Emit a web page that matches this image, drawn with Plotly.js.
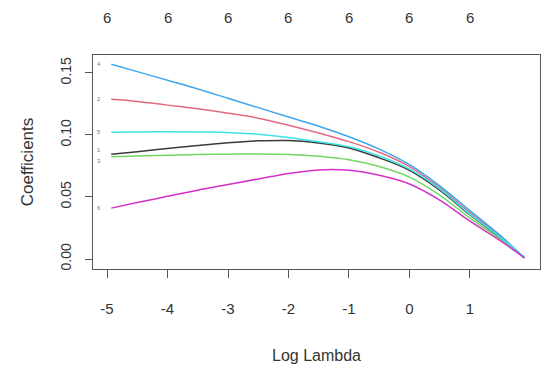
<!DOCTYPE html>
<html>
<head>
<meta charset="utf-8">
<script src="https://cdn.plot.ly/plotly-3.0.1.min.js"></script>
<style>
html,body{margin:0;padding:0;background:#fff;}
#chart{width:542px;height:371px;}
</style>
</head>
<body>
<div id="chart"></div>
<script>
// Log Lambda grid
const logLambda = [-4.93, -4.5, -4, -3.5, -3, -2.5, -2, -1.5, -1, -0.5, 0, 0.5, 1, 1.5, 1.9];
// Coefficient paths (variable index -> values)
const coef1 = [0.0845, 0.0865, 0.089, 0.0915, 0.0937, 0.0952, 0.0955, 0.0935, 0.0895, 0.0815, 0.0715, 0.0555, 0.0355, 0.017, 0.001];
const coef2 = [0.1287, 0.127, 0.124, 0.121, 0.1175, 0.1135, 0.1078, 0.1015, 0.0946, 0.086, 0.0745, 0.0575, 0.0375, 0.018, 0.001];
const coef3 = [0.0825, 0.083, 0.0837, 0.0842, 0.0845, 0.0847, 0.0843, 0.0828, 0.080, 0.0745, 0.066, 0.0515, 0.033, 0.016, 0.001];
const coef4 = [0.157, 0.151, 0.144, 0.137, 0.1295, 0.122, 0.1145, 0.107, 0.0985, 0.0885, 0.076, 0.059, 0.039, 0.019, 0.001];
const coef5 = [0.1022, 0.1024, 0.1025, 0.1024, 0.102, 0.1005, 0.098, 0.0945, 0.0905, 0.083, 0.0725, 0.0565, 0.036, 0.0175, 0.001];
const coef6 = [0.041, 0.0455, 0.0505, 0.0555, 0.060, 0.0645, 0.069, 0.0718, 0.0715, 0.0675, 0.0605, 0.0475, 0.0305, 0.0148, 0.001];
const seriesNames = ["1", "2", "3", "4", "5", "6"];
const seriesColors = ["#3a3a3a", "#E36A7E", "#6FD85E", "#3FA6EC", "#3EE3E6", "#D431C6"];
// Top axis: number of nonzero coefficients
const topTicks = [-5, -4, -3, -2, -1, 0, 1];
const topLabels = ["6", "6", "6", "6", "6", "6", "6"];
const xTickVals = [-5, -4, -3, -2, -1, 0, 1];
const yTickVals = [0, 0.05, 0.10, 0.15];
const yTickText = ["0.00", "0.05", "0.10", "0.15"];

const allCoefs = [coef1, coef2, coef3, coef4, coef5, coef6];
const traces = allCoefs.map((c, i) => ({
  x: logLambda, y: c, type: 'scatter', mode: 'lines',
  name: seriesNames[i],
  line: {color: seriesColors[i], width: 1.5, shape: 'spline', smoothing: 1.0},
  hoverinfo: 'skip'
}));

const labelShift = [4, 0, -4, 0, 0, 0];
const annotations = [];
topTicks.forEach((t, i) => {
  annotations.push({x: t, y: 1.173, xref: 'x', yref: 'paper', text: topLabels[i],
    showarrow: false, xanchor: 'center', yanchor: 'middle',
    font: {family: 'Liberation Sans, Arial, sans-serif', size: 15, color: '#333'}});
});
allCoefs.forEach((c, i) => {
  annotations.push({x: -5.14, y: c[0], xref: 'x', yref: 'y', text: seriesNames[i],
    showarrow: false, xanchor: 'center', yanchor: 'middle', yshift: labelShift[i],
    font: {family: 'Liberation Sans, Arial, sans-serif', size: 6, color: '#777'}});
});

const font = {family: 'Liberation Sans, Arial, sans-serif', size: 15, color: '#333'};
const layout = {
  width: 542, height: 371,
  margin: {l: 93, r: 2, t: 55, b: 102},
  paper_bgcolor: '#fff', plot_bgcolor: '#fff',
  showlegend: false,
  font: font,
  xaxis: {
    range: [-5.232, 2.158], autorange: false,
    tickvals: xTickVals, ticktext: xTickVals.map(String),
    ticks: 'outside', ticklen: 8, tickwidth: 1, tickcolor: '#555',
    showline: true, linecolor: '#555', linewidth: 1, mirror: true,
    showgrid: false, zeroline: false,
    ticklabelstandoff: 18,
    tickfont: {family: 'Liberation Sans, Arial, sans-serif', size: 15, color: '#333'},
    title: {text: 'Log Lambda', standoff: 33,
      font: {family: 'Liberation Sans, Arial, sans-serif', size: 16, color: '#333'}}
  },
  yaxis: {
    range: [-0.00805, 0.1644], autorange: false,
    tickvals: yTickVals, ticktext: yTickText, tickangle: -90,
    ticks: 'outside', ticklen: 7, tickwidth: 1, tickcolor: '#555',
    showline: true, linecolor: '#555', linewidth: 1, mirror: true,
    showgrid: false, zeroline: false,
    ticklabelstandoff: 8,
    tickfont: {family: 'Liberation Sans, Arial, sans-serif', size: 14, color: '#333'},
    title: {text: 'Coefficients', standoff: 20,
      font: {family: 'Liberation Sans, Arial, sans-serif', size: 17, color: '#333'}}
  },
  annotations: annotations
};
Plotly.newPlot('chart', traces, layout, {staticPlot: true, displayModeBar: false});
</script>
</body>
</html>
